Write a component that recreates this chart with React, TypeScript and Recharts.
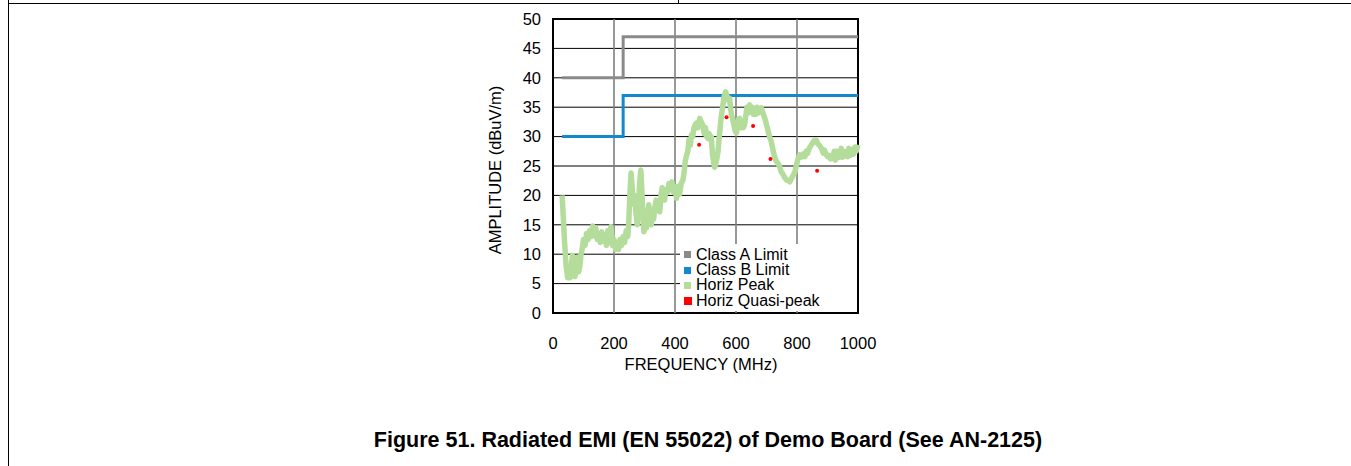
import React from "react";
import {
  ComposedChart,
  Line,
  Scatter,
  XAxis,
  YAxis,
  ReferenceLine,
  ReferenceArea,
} from "recharts";

// axis ticks
const xTicks = [0, 200, 400, 600, 800, 1000];
const yTicks = [0, 5, 10, 15, 20, 25, 30, 35, 40, 45, 50];

// EN 55022 limits (step at 230 MHz)
const classAFreq = [30, 230, 1000];
const classAAmp = [40, 47, 47];
const classBFreq = [30, 230, 1000];
const classBAmp = [30, 37, 37];

// horizontal peak scan
const peakFreq = [
  30, 33, 38, 43, 48, 52, 56, 60, 64, 68, 72, 76, 80, 84, 88, 92, 96, 100, 105, 110,
  115, 120, 125, 130, 135, 140, 145, 150, 155, 160, 165, 170, 175, 180, 185, 190, 195, 200, 205, 210,
  215, 220, 225, 230, 235, 240, 245, 248, 252, 256, 260, 264, 268, 272, 276, 280, 284, 288, 292, 295,
  298, 302, 306, 310, 314, 318, 322, 326, 330, 334, 338, 342, 346, 350, 354, 358, 362, 366, 370, 375,
  380, 385, 390, 395, 400, 405, 410, 415, 420, 426, 430, 434, 437, 442, 446, 450, 454, 458, 462, 466,
  470, 475, 481, 486, 491, 496, 500, 504, 508, 512, 516, 519, 523, 527, 530, 534, 538, 541, 545, 549,
  552, 556, 560, 563, 566, 570, 574, 579, 582, 585, 589, 593, 597, 601, 605, 609, 612, 616, 620, 624,
  628, 632, 636, 640, 645, 649, 653, 657, 661, 665, 669, 673, 677, 683, 688, 694, 700, 705, 710, 716,
  722, 727, 732, 737, 743, 748, 754, 760, 766, 772, 776, 781, 786, 792, 797, 802, 808, 814, 820, 826,
  830, 835, 840, 846, 852, 857, 863, 868, 874, 880, 886, 890, 895, 900, 905, 910, 917, 922, 926, 930,
  935, 940, 945, 950, 955, 960, 966, 970, 975, 980, 985, 990, 994, 1000,
];
const peakAmp = [
  20, 17, 12, 8, 6, 7.5, 6, 8, 9.8, 7, 6.2, 7.5, 9.5, 7, 8, 10, 11, 12.5, 11.5, 13.5,
  12.5, 14, 13, 14.8, 13.2, 14.5, 12.5, 13.5, 12, 13.8, 12.2, 13.3, 11.5, 14, 12, 14.7, 11.5, 12.5, 10.8, 12,
  10.8, 12.5, 11.5, 13, 12, 14, 13, 15, 20, 23.8, 21, 18.5, 20, 17, 15, 18, 22, 24.3, 20, 16,
  13.8, 16, 14.5, 17, 18.4, 16.5, 15, 17.5, 16, 18, 19.2, 17.5, 18.5, 17.2, 20, 21.3, 19.5, 19.2, 21, 20.5,
  22, 21, 22.3, 20.5, 21.5, 19.5, 21.5, 20.2, 22, 22.6, 24, 26, 26.6, 27.5, 29.5, 28.5, 30.3, 30, 31.5, 32,
  32.3, 31.5, 33.1, 32.5, 32, 30.5, 31.5, 30, 29.7, 30.5, 29.5, 30, 27, 25.5, 24.8, 25.5, 26.5, 27.4, 30, 32,
  33.5, 35, 36.5, 37.2, 37.6, 37, 36.2, 36.5, 35, 33.7, 33, 32, 31, 30.6, 31.8, 33, 33.1, 31.5, 32.5, 31.5,
  32, 33.5, 35, 34, 35.4, 34.2, 35, 33.8, 34.2, 33.8, 35, 34, 34.2, 34.9, 34, 33.2, 32, 31, 30, 29.1,
  27.5, 26.5, 25.8, 25.5, 24.9, 24, 23.6, 23, 22.6, 22.5, 22.3, 22.8, 23.3, 23.8, 24.9, 26, 26.9, 26.5, 27, 26.6,
  27.5, 27.2, 28, 28.5, 29, 29.4, 29.4, 28.8, 28.5, 28, 27.2, 27.7, 27, 26.6, 26.8, 26.2, 26.3, 27.5, 26, 27.5,
  27, 26.5, 28, 26.5, 27.5, 26.8, 26.6, 28, 26.8, 27.8, 27, 28.2, 27.5, 28.6,
];

// horizontal quasi-peak measurements
const qpFreq = [479, 569, 656, 713, 866];
const qpAmp = [28.6, 33.3, 31.8, 26.2, 24.2];

const zip = (f: number[], a: number[]) => f.map((freq, i) => ({ freq, amp: a[i] }));

const classA = zip(classAFreq, classAAmp);
const classB = zip(classBFreq, classBAmp);
const peak = zip(peakFreq, peakAmp);
const quasi = zip(qpFreq, qpAmp);

const GREY = "#8a8a8a";
const BLUE = "#1289cb";
const GREEN = "#b4dc9a";
const RED = "#ff0000";

const legendItems = [
  { name: "Class A Limit", color: GREY, size: 7 },
  { name: "Class B Limit", color: BLUE, size: 7 },
  { name: "Horiz Peak", color: GREEN, size: 7 },
  { name: "Horiz Quasi-peak", color: RED, size: 8 },
];

const LegendBox = () => (
  <div
    style={{
      position: "absolute",
      left: 680,
      top: 244,
      width: 173,
      height: 64,
      background: "#fff",
      padding: "3px 0 0 4px",
    }}
  >
    {legendItems.map((it) => (
      <div
        key={it.name}
        style={{ display: "flex", alignItems: "center", height: 15.4, fontSize: 16, color: "#000", whiteSpace: "nowrap" }}
      >
        <span
          style={{ width: it.size, height: it.size, background: it.color, marginRight: 12 - it.size, display: "inline-block" }}
        />
        <span>{it.name}</span>
      </div>
    ))}
  </div>
);

const Dot = (props: any) => <circle cx={props.cx} cy={props.cy} r={2} fill={RED} />;

export default function App() {
  const font = "'Liberation Sans', Arial, sans-serif";
  return (
    <div style={{ position: "absolute", left: 0, top: 0, width: 1351, height: 466, background: "#fff", fontFamily: font }}>
      {/* page frame */}
      <div style={{ position: "absolute", left: 8, top: 3, width: 1343, height: 1, background: "#000" }} />
      <div style={{ position: "absolute", left: 8, top: 0, width: 1, height: 466, background: "#000" }} />
      <div style={{ position: "absolute", left: 678, top: 0, width: 1, height: 4, background: "#000" }} />

      <ComposedChart
        width={1351}
        height={400}
        margin={{ top: 19, right: 493, bottom: 57, left: 493 }}
        style={{ position: "absolute", left: 0, top: 0 }}
      >
        {yTicks.slice(1, -1).map((t) => (
          <ReferenceLine key={"h" + t} y={t} stroke="#000" strokeWidth={1} />
        ))}
        {xTicks.slice(1, -1).map((t) => (
          <ReferenceLine key={"v" + t} x={t} stroke="#7f7f7f" strokeWidth={1.6} />
        ))}
        <XAxis
          dataKey="freq"
          type="number"
          domain={[0, 1000]}
          ticks={xTicks}
          axisLine={false}
          tickLine={false}
          tickSize={0}
          tickMargin={24}
          height={30}
          tick={{ fill: "#000", fontSize: 16.5, fontFamily: font }}
          allowDuplicatedCategory={false}
        />
        <YAxis
          type="number"
          domain={[0, 50]}
          ticks={yTicks}
          axisLine={false}
          tickLine={false}
          tickSize={0}
          tickMargin={12}
          width={60}
          interval={0}
          tick={{ fill: "#000", fontSize: 16.5, fontFamily: font }}
        />
        <Line data={classA} dataKey="amp" type="stepAfter" stroke={GREY} strokeWidth={3} dot={false} isAnimationActive={false} />
        <Line data={classB} dataKey="amp" type="stepAfter" stroke={BLUE} strokeWidth={3} dot={false} isAnimationActive={false} />
        <Line
          data={peak}
          dataKey="amp"
          type="linear"
          stroke={GREEN}
          strokeWidth={5.5}
          strokeLinejoin="round"
          dot={false}
          isAnimationActive={false}
        />
        <Scatter data={quasi} dataKey="amp" shape={<Dot />} isAnimationActive={false} />
        <ReferenceArea x1={0} x2={1000} y1={0} y2={50} fill="none" stroke="#000" strokeWidth={2} ifOverflow="visible" />
      </ComposedChart>

      <LegendBox />

      {/* axis titles */}
      <div
        style={{
          position: "absolute",
          left: 495,
          top: 170,
          transform: "translate(-50%, -50%) rotate(-90deg)",
          fontSize: 16.5,
          whiteSpace: "nowrap",
        }}
      >
        AMPLITUDE (dBuV/m)
      </div>
      <div
        style={{
          position: "absolute",
          left: 701,
          top: 364,
          transform: "translate(-50%, -50%)",
          fontSize: 16.5,
          whiteSpace: "nowrap",
        }}
      >
        FREQUENCY (MHz)
      </div>

      <div
        style={{
          position: "absolute",
          left: 708,
          top: 440,
          transform: "translate(-50%, -50%)",
          fontSize: 21.5,
          fontWeight: "bold",
          whiteSpace: "nowrap",
        }}
      >
        Figure 51. Radiated EMI (EN 55022) of Demo Board (See AN-2125)
      </div>
    </div>
  );
}
